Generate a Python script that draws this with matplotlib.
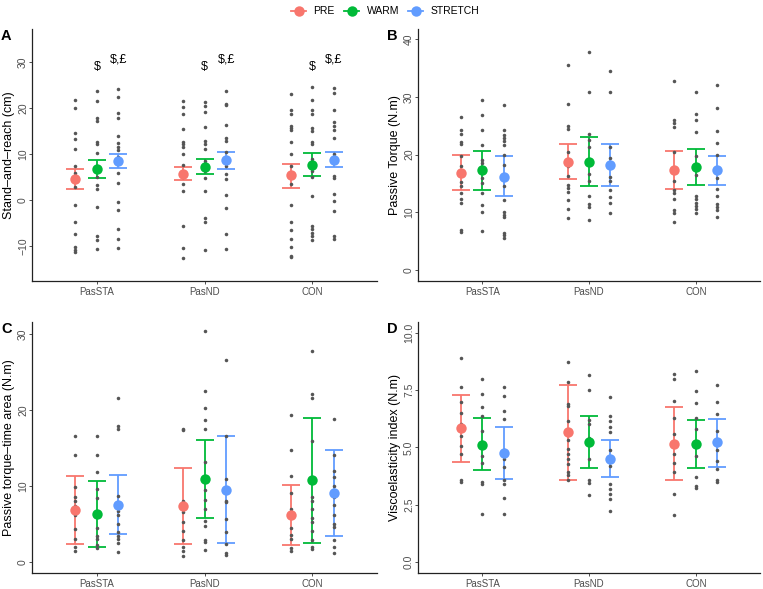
import matplotlib
matplotlib.use("Agg")
import matplotlib.pyplot as plt
from matplotlib.lines import Line2D

plt.rcParams["font.family"] = ["Liberation Sans", "DejaVu Sans"]

groups = ["PasSTA", "PasND", "CON"]
conditions = ["PRE", "WARM", "STRETCH"]
colors = ["#F8766D", "#00BA38", "#619CFF"]

# A - stand and reach (cm): mean, error bar limits, individual values [group][condition]
sr_mean = [[4.7, 6.9, 8.6], [5.7, 7.3, 8.7], [5.5, 7.8, 8.8]]
sr_low = [[2.5, 4.9, 7.0], [4.4, 5.7, 6.8], [2.8, 5.4, 7.2]]
sr_high = [[6.9, 8.8, 10.1], [7.3, 9.0, 10.6], [8.0, 10.3, 10.6]]
sr_dots = [
    [[21.9, 20.2, 14.6, 13.3, 11.2, 7.4, 6.0, 3.0, -0.9, -4.7, -7.2, -10.1, -10.7, -11.3],
     [23.7, 21.7, 17.9, 17.2, 12.8, 12.3, 10.3, 7.0, 5.2, 3.4, 2.5, -1.5, -7.7, -8.5, -10.6],
     [24.2, 22.4, 19.0, 17.9, 14.1, 12.5, 11.7, 11.0, 9.5, 6.0, 3.8, -0.3, -2.0, -6.2, -8.3, -10.3]],
    [[21.7, 20.3, 18.8, 15.5, 12.8, 12.3, 11.7, 10.1, 7.6, 5.0, 3.6, 2.0, -5.5, -10.3, -12.6],
     [21.3, 20.6, 19.3, 15.9, 13.0, 12.3, 11.2, 8.5, 6.5, 4.9, 2.0, -3.8, -4.7, -10.7],
     [23.8, 21.0, 20.7, 16.5, 13.6, 13.0, 10.6, 7.5, 5.7, 4.7, 1.2, -1.6, -7.3, -10.6]],
    [[23.2, 19.6, 18.9, 16.2, 15.7, 15.4, 12.8, 10.2, 7.5, 3.5, -0.9, -4.6, -6.4, -8.4, -10.2, -12.0, -12.3],
     [24.6, 21.9, 19.6, 18.8, 15.7, 15.0, 12.8, 12.3, 9.0, 6.5, 5.2, 1.0, -5.5, -6.2, -7.1, -7.8, -8.7],
     [24.4, 23.3, 19.7, 17.0, 16.2, 15.4, 13.6, 10.0, 5.4, 4.9, 1.4, -0.1, -2.2, -7.8, -8.4]],
]
sr_marks = [["", "$", "$,£"], ["", "$", "$,£"], ["", "$", "$,£"]]

# B - passive torque (N.m)
pt_mean = [[16.9, 17.3, 16.2], [18.8, 18.7, 18.2], [17.3, 17.9, 17.3]]
pt_low = [[13.8, 13.8, 12.9], [15.8, 14.5, 14.6], [14.0, 14.7, 14.7]]
pt_high = [[19.9, 20.6, 19.7], [21.8, 23.0, 21.8], [20.6, 21.0, 19.8]]
pt_dots = [
    [[26.5, 24.2, 23.6, 22.2, 21.8, 19.7, 18.1, 16.5, 15.3, 14.5, 13.3, 12.3, 11.6, 6.9, 6.5],
     [29.5, 26.8, 24.3, 21.7, 19.1, 18.5, 17.3, 15.9, 15.0, 13.4, 11.2, 10.1, 6.7],
     [28.6, 24.2, 23.4, 22.8, 22.3, 21.6, 19.9, 18.2, 14.5, 12.1, 10.1, 9.5, 9.1, 6.4, 6.0, 5.5]],
    [[35.6, 28.8, 25.0, 24.4, 20.5, 18.0, 16.3, 14.7, 14.2, 13.6, 12.1, 10.6, 9.0],
     [37.8, 30.9, 23.6, 22.5, 21.4, 18.5, 16.6, 15.5, 12.9, 11.4, 11.0, 8.7],
     [34.5, 30.9, 21.4, 19.5, 16.2, 15.4, 13.8, 12.6, 11.6, 9.9]],
    [[32.8, 26.0, 25.4, 24.8, 20.5, 17.0, 15.5, 13.9, 13.4, 12.3, 10.4, 9.8, 8.4],
     [30.9, 27.0, 26.0, 23.9, 19.8, 16.5, 12.9, 12.3, 11.6, 11.1, 10.5, 9.8],
     [32.1, 28.0, 24.1, 22.0, 19.9, 17.5, 16.0, 14.0, 12.9, 11.4, 11.0, 10.4, 9.2]],
]

# C - passive torque-time area (N.m)
pta_mean = [[6.8, 6.3, 7.4], [7.3, 10.9, 9.5], [6.1, 10.7, 9.0]]
pta_low = [[2.3, 2.0, 3.6], [2.3, 5.8, 2.5], [2.2, 2.5, 3.35]]
pta_high = [[11.3, 10.65, 11.4], [12.3, 16.0, 16.5], [10.1, 18.9, 14.7]]
pta_dots = [
    [[16.6, 14.0, 9.8, 8.5, 8.0, 7.3, 6.2, 4.3, 3.0, 2.0, 1.4],
     [16.5, 14.0, 11.8, 9.6, 8.4, 6.0, 4.5, 3.4, 3.0, 2.2, 1.8],
     [21.5, 17.8, 17.5, 8.7, 7.4, 6.7, 6.1, 5.0, 3.9, 3.4, 3.0, 2.4, 1.3]],
    [[17.5, 17.3, 8.0, 6.5, 5.2, 4.1, 2.8, 2.0, 1.4, 0.7],
     [30.3, 22.4, 20.2, 18.7, 17.5, 13.1, 9.5, 8.1, 7.0, 5.3, 4.7, 2.8, 2.6, 1.5],
     [26.5, 16.5, 10.9, 8.0, 7.8, 5.6, 3.9, 2.3, 1.1, 0.9]],
    [[19.3, 14.7, 11.3, 9.1, 7.0, 4.4, 3.5, 3.0, 1.8, 1.4],
     [27.7, 22.1, 21.6, 15.9, 8.5, 8.0, 7.0, 5.7, 5.2, 4.0, 2.8, 2.0, 1.7],
     [18.8, 14.1, 12.0, 11.1, 10.0, 8.5, 7.4, 6.1, 5.0, 4.6, 2.8, 2.0, 1.2]],
]

# D - viscoelasticity index (N.m)
vi_mean = [[5.86, 5.12, 4.77], [5.65, 5.22, 4.51], [5.14, 5.14, 5.22]]
vi_low = [[4.38, 3.99, 3.62], [3.58, 4.09, 3.71], [3.55, 4.10, 4.16]]
vi_high = [[7.29, 6.28, 5.91], [7.74, 6.38, 5.33], [6.78, 6.20, 6.26]]
vi_dots = [
    [[8.9, 7.65, 7.0, 6.5, 6.0, 5.5, 5.07, 4.71, 3.55, 3.48],
     [7.97, 7.32, 6.78, 6.38, 5.7, 4.64, 4.3, 3.48, 3.38, 2.10],
     [7.64, 7.25, 6.59, 6.26, 4.9, 4.49, 4.13, 3.55, 3.41, 2.80, 2.10]],
    [[8.75, 7.87, 6.88, 6.81, 6.16, 5.3, 4.93, 4.71, 4.49, 4.28, 3.91, 3.77, 3.55],
     [8.16, 7.49, 6.20, 6.01, 5.4, 4.49, 3.55, 3.45, 2.90],
     [7.20, 6.38, 6.16, 5.87, 5.65, 4.9, 4.2, 3.41, 3.19, 2.97, 2.72, 2.20]],
    [[8.19, 7.97, 7.03, 6.3, 5.6, 4.7, 4.3, 3.91, 2.94, 2.03],
     [8.33, 7.46, 6.96, 6.30, 5.8, 4.6, 3.70, 3.33, 3.22],
     [7.71, 6.99, 6.48, 5.72, 4.9, 4.4, 4.06, 3.59, 3.48]],
]

panels = [
    ("A", sr_mean, sr_low, sr_high, sr_dots, "Stand\u2013and\u2013reach (cm)",
     (-17.5, 37.3), [-10, 0, 10, 20, 30], ["\u221210", "0", "10", "20", "30"]),
    ("B", pt_mean, pt_low, pt_high, pt_dots, "Passive Torque (N.m)",
     (-1.9, 41.8), [0, 10, 20, 30, 40], ["0", "10", "20", "30", "40"]),
    ("C", pta_mean, pta_low, pta_high, pta_dots, "Passive torque\u2013time area (N.m)",
     (-1.5, 31.6), [0, 10, 20, 30], ["0", "10", "20", "30"]),
    ("D", vi_mean, vi_low, vi_high, vi_dots, "Viscoelasticity index (N.m)",
     (-0.5, 10.5), [0, 2.5, 5, 7.5, 10], ["0.0", "2.5", "5.0", "7.5", "10.0"]),
]

# axes boxes in figure fractions (left, bottom, width, height)
boxes = [
    (0.0423, 0.523, 0.452, 0.428),
    (0.548, 0.523, 0.448, 0.428),
    (0.0423, 0.027, 0.452, 0.427),
    (0.548, 0.027, 0.448, 0.427),
]

fig = plt.figure(figsize=(7.63, 5.89), dpi=100)

for box, (letter, means, lows, highs, dots, ylab, ylim, yt, ytl) in zip(boxes, panels):
    ax = fig.add_axes(box)
    for gi in range(3):
        for ci in range(3):
            x = gi + 1 + (ci - 1) * 0.2
            m = means[gi][ci]
            ax.errorbar(x, m, yerr=[[m - lows[gi][ci]], [highs[gi][ci] - m]], fmt="none",
                        ecolor=colors[ci], elinewidth=1.3, capsize=6.5, capthick=1.3, zorder=2)
            d = dots[gi][ci]
            ax.scatter([x] * len(d), d, s=6.5, color="#555555", linewidths=0, zorder=3)
            ax.plot(x, m, "o", ms=7.5, color=colors[ci], mec="none", zorder=4)
            if letter == "A" and sr_marks[gi][ci]:
                ty = 29.0 if ci == 1 else 30.7
                ax.text(x, ty, sr_marks[gi][ci], ha="center", va="center", fontsize=9, zorder=5)

    ax.set_xlim(0.4, 3.6)
    ax.set_ylim(*ylim)
    ax.set_xticks([1, 2, 3])
    ax.set_xticklabels(groups)
    ax.set_yticks(yt)
    ax.set_yticklabels(ytl, rotation=90, va="center")
    ax.tick_params(axis="both", length=2, width=0.6, color="#333333", labelcolor="#4D4D4D")
    ax.tick_params(axis="y", pad=1, labelsize=7.5)
    ax.tick_params(axis="x", pad=2, labelsize=7)
    for s in ["top", "right"]:
        ax.spines[s].set_visible(False)
    for s in ["left", "bottom"]:
        ax.spines[s].set_linewidth(0.9)
        ax.spines[s].set_color("#222222")
    ax.set_ylabel(ylab, fontsize=9)
    ax.yaxis.set_label_coords(-0.05, 0.5)
    ax.text(-0.075, 1.0, letter, transform=ax.transAxes, fontsize=10.5, fontweight="bold",
            ha="center", va="top")

handles = [Line2D([0], [0], color=c, marker="o", ms=7.5, lw=1.3, mec="none") for c in colors]
fig.legend(handles, conditions, loc="upper center", bbox_to_anchor=(0.505, 1.0), ncol=3,
           frameon=False, fontsize=7.5, handlelength=1.45, handletextpad=0.7, columnspacing=0.9,
           borderaxespad=0.2)

fig.savefig("out.png", dpi=100)
